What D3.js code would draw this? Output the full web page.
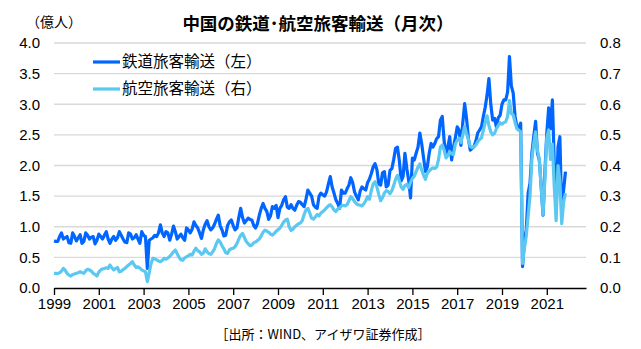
<!DOCTYPE html>
<html><head><meta charset="utf-8">
<script src="https://cdn.jsdelivr.net/npm/d3@7"></script>
<style>
html,body{margin:0;padding:0;background:#fff;}
svg{display:block;}
</style>
</head><body>
<svg id="chart" width="641" height="349"></svg>
<script>
// ---- data ----
const chartTitle = "中国の鉄道･航空旅客輸送（月次）";
const unitLabel = "（億人）";
const sourceLabel = "［出所：WIND、アイザワ証券作成］";
const seriesNames = ["鉄道旅客輸送（左）", "航空旅客輸送（右）"];
const xTickLabels = ["1999","2001","2003","2005","2007","2009","2011","2013","2015","2017","2019","2021"];
const leftTicks = [0,0.5,1,1.5,2,2.5,3,3.5,4];
const rightTicks = [0,0.1,0.2,0.3,0.4,0.5,0.6,0.7,0.8];
// monthly values, 億人 (rail: left axis)
const railValues = [
0.77,0.76,0.76,0.84,0.90,0.80,0.82,0.84,0.74,0.73,0.90,0.84,
0.77,0.82,0.87,0.73,0.76,0.90,0.86,0.80,0.83,0.84,0.72,0.78,
0.88,0.84,0.80,0.86,0.92,0.80,0.73,0.80,0.84,0.78,0.82,0.92,
0.86,0.80,0.75,0.74,0.90,0.88,0.80,0.82,0.87,0.80,0.73,0.92,
0.86,0.84,0.32,0.78,0.80,0.82,0.86,0.84,0.90,1.03,0.90,0.84,
0.92,0.90,0.78,0.88,1.01,0.92,0.80,0.84,0.88,0.82,0.78,0.98,
0.95,0.90,0.96,1.08,1.02,0.98,0.90,0.81,0.95,1.04,1.10,1.00,
0.95,0.98,1.04,1.12,1.19,1.02,0.95,0.85,0.86,1.02,1.08,1.11,
1.02,0.95,0.98,1.15,1.30,1.15,1.06,1.10,1.14,1.12,1.11,1.02,
0.98,1.05,1.19,1.30,1.38,1.30,1.25,1.12,1.18,1.33,1.30,1.35,
1.15,1.30,1.35,1.44,1.49,1.32,1.30,1.36,1.30,1.27,1.35,1.41,
1.40,1.36,1.33,1.45,1.60,1.55,1.50,1.36,1.32,1.30,1.50,1.55,
1.52,1.50,1.57,1.70,1.82,1.65,1.55,1.44,1.38,1.30,1.60,1.55,
1.55,1.62,1.68,1.80,1.72,1.57,1.50,1.44,1.58,1.65,1.62,1.60,
1.72,1.78,1.87,1.98,2.03,1.93,1.70,1.68,1.88,1.90,1.65,1.68,
1.92,1.95,2.10,2.28,2.30,2.08,1.75,1.82,2.20,1.95,1.76,1.47,
2.12,2.09,2.20,2.30,2.53,2.35,2.12,1.90,1.98,2.20,2.36,2.30,
2.36,2.44,2.47,2.74,2.80,2.40,2.17,2.30,2.47,2.09,2.30,2.45,
2.63,2.58,2.33,2.70,3.01,2.77,2.44,2.25,2.28,2.31,2.40,2.53,
2.58,2.63,2.80,2.95,3.15,3.42,3.00,2.74,2.77,2.63,2.78,2.82,
3.00,3.07,3.07,3.20,3.78,3.30,3.18,2.80,2.63,2.62,2.69,0.35,
0.78,0.95,1.55,1.71,2.20,2.47,2.72,2.20,2.09,1.65,1.19,1.90,
2.53,2.94,2.60,3.07,2.04,1.25,2.30,2.47,1.20,1.60,1.90
];
// monthly values, 億人 (air: right axis)
const airValues = [
0.048,0.048,0.047,0.050,0.055,0.064,0.058,0.048,0.042,0.039,0.044,0.046,
0.048,0.050,0.053,0.050,0.048,0.056,0.061,0.059,0.055,0.048,0.044,0.039,
0.052,0.059,0.062,0.064,0.066,0.064,0.075,0.066,0.059,0.063,0.067,0.053,
0.055,0.060,0.064,0.070,0.075,0.080,0.086,0.075,0.067,0.069,0.065,0.059,
0.056,0.053,0.021,0.050,0.080,0.097,0.095,0.092,0.088,0.086,0.090,0.097,
0.094,0.098,0.103,0.110,0.118,0.124,0.112,0.100,0.092,0.091,0.098,0.102,
0.105,0.110,0.108,0.120,0.130,0.122,0.118,0.110,0.114,0.128,0.118,0.112,
0.110,0.118,0.128,0.145,0.157,0.150,0.138,0.128,0.115,0.113,0.125,0.128,
0.130,0.135,0.145,0.160,0.172,0.178,0.165,0.152,0.145,0.138,0.140,0.148,
0.150,0.155,0.160,0.170,0.182,0.189,0.186,0.182,0.176,0.173,0.178,0.185,
0.190,0.195,0.205,0.215,0.222,0.225,0.200,0.188,0.192,0.200,0.205,0.210,
0.212,0.220,0.240,0.255,0.260,0.245,0.228,0.225,0.232,0.240,0.235,0.245,
0.250,0.255,0.262,0.268,0.272,0.265,0.255,0.250,0.258,0.262,0.268,0.270,
0.268,0.272,0.285,0.298,0.292,0.282,0.275,0.272,0.270,0.268,0.275,0.285,
0.298,0.290,0.318,0.340,0.347,0.330,0.305,0.285,0.295,0.310,0.318,0.315,
0.308,0.318,0.335,0.355,0.368,0.350,0.330,0.322,0.335,0.338,0.328,0.345,
0.358,0.365,0.380,0.395,0.405,0.385,0.368,0.355,0.375,0.382,0.388,0.392,
0.390,0.395,0.420,0.460,0.467,0.450,0.425,0.432,0.445,0.438,0.436,0.470,
0.482,0.489,0.475,0.500,0.527,0.505,0.485,0.462,0.458,0.462,0.467,0.478,
0.485,0.490,0.515,0.540,0.562,0.530,0.510,0.500,0.505,0.520,0.530,0.540,
0.535,0.540,0.543,0.560,0.612,0.570,0.565,0.540,0.520,0.515,0.510,0.080,
0.130,0.170,0.235,0.300,0.420,0.470,0.510,0.450,0.420,0.330,0.240,0.360,
0.490,0.516,0.420,0.470,0.330,0.220,0.400,0.350,0.210,0.280,0.310
];

// ---- layout / style ----
const W = 641, H = 349;
const plot = {left: 54, right: 586, top: 43, bottom: 288};
const railColor = "#0066FF";
const airColor = "#5BC8F2";
const numFont = "'Liberation Sans', Arial, sans-serif";
const jpFont = "'Noto Sans CJK JP', 'Noto Sans', sans-serif";
const monthsPerTick = 24;
const axisMonths = 285;

const svg = d3.select("#chart");
svg.append("rect").attr("width", W).attr("height", H).attr("fill", "#fff");

const x = d3.scaleLinear().domain([0, axisMonths]).range([plot.left, plot.right]);
const yL = d3.scaleLinear().domain([0, 4]).range([plot.bottom, plot.top]);
const yR = d3.scaleLinear().domain([0, 0.8]).range([plot.bottom, plot.top]);

// gridlines
svg.append("g").selectAll("line").data(leftTicks.filter(d => d > 0)).join("line")
  .attr("x1", plot.left).attr("x2", plot.right)
  .attr("y1", d => yL(d)).attr("y2", d => yL(d))
  .attr("stroke", "#D9D9D9").attr("stroke-width", 1.3);

// left axis
const gL = svg.append("g").attr("transform", `translate(${plot.left},0)`)
  .call(d3.axisLeft(yL).tickValues(leftTicks).tickFormat(d3.format(".1f")).tickSize(0).tickPadding(14));
gL.select(".domain").remove();
gL.selectAll("text").attr("font-family", numFont).attr("font-size", 15).attr("fill", "#000");

// right axis
const gR = svg.append("g").attr("transform", `translate(${plot.right},0)`)
  .call(d3.axisRight(yR).tickValues(rightTicks).tickFormat(d3.format(".1f")).tickSize(0).tickPadding(14));
gR.select(".domain").remove();
gR.selectAll("text").attr("font-family", numFont).attr("font-size", 15).attr("fill", "#000");

// bottom axis
const tickIdx = xTickLabels.map((d, i) => i * monthsPerTick);
const gB = svg.append("g").attr("transform", `translate(0,${plot.bottom})`)
  .call(d3.axisBottom(x).tickValues(tickIdx).tickFormat((d, i) => xTickLabels[i]).tickSize(7).tickSizeOuter(0).tickPadding(3));
gB.select(".domain").attr("stroke", "#000").attr("stroke-width", 1.3);
gB.selectAll(".tick line").attr("stroke", "#000").attr("stroke-width", 1.3);
gB.selectAll("text").attr("font-family", numFont).attr("font-size", 15).attr("fill", "#000");

// lines
const railLine = d3.line().x((d, i) => x(i)).y(d => yL(d));
const airLine = d3.line().x((d, i) => x(i)).y(d => yR(d));
svg.append("path").datum(railValues).attr("d", railLine)
  .attr("fill", "none").attr("stroke", railColor).attr("stroke-width", 3.2).attr("stroke-linejoin", "round");
svg.append("path").datum(airValues).attr("d", airLine)
  .attr("fill", "none").attr("stroke", airColor).attr("stroke-width", 3.2).attr("stroke-linejoin", "round");

// title
svg.append("text").attr("x", 318).attr("y", 30).attr("text-anchor", "middle")
  .attr("font-family", jpFont).attr("font-weight", "bold").attr("font-size", 17.5).attr("fill", "#000")
  .text(chartTitle);

// unit
svg.append("text").attr("x", 26).attr("y", 27)
  .attr("font-family", jpFont).attr("font-size", 14).attr("fill", "#000").text(unitLabel);

// legend
const legend = svg.append("g");
[railColor, airColor].forEach((c, i) => {
  const ly = 62 + i * 27;
  legend.append("line").attr("x1", 93).attr("x2", 120).attr("y1", ly).attr("y2", ly)
    .attr("stroke", c).attr("stroke-width", 3.2);
  legend.append("text").attr("x", 122).attr("y", ly).attr("dy", "0.35em")
    .attr("font-family", jpFont).attr("font-size", 15.5).attr("fill", "#000").text(seriesNames[i]);
});

// source
svg.append("text").attr("x", 323).attr("y", 339).attr("text-anchor", "middle")
  .attr("font-family", jpFont).attr("font-size", 13).attr("fill", "#000").text(sourceLabel);
</script>
</body></html>
